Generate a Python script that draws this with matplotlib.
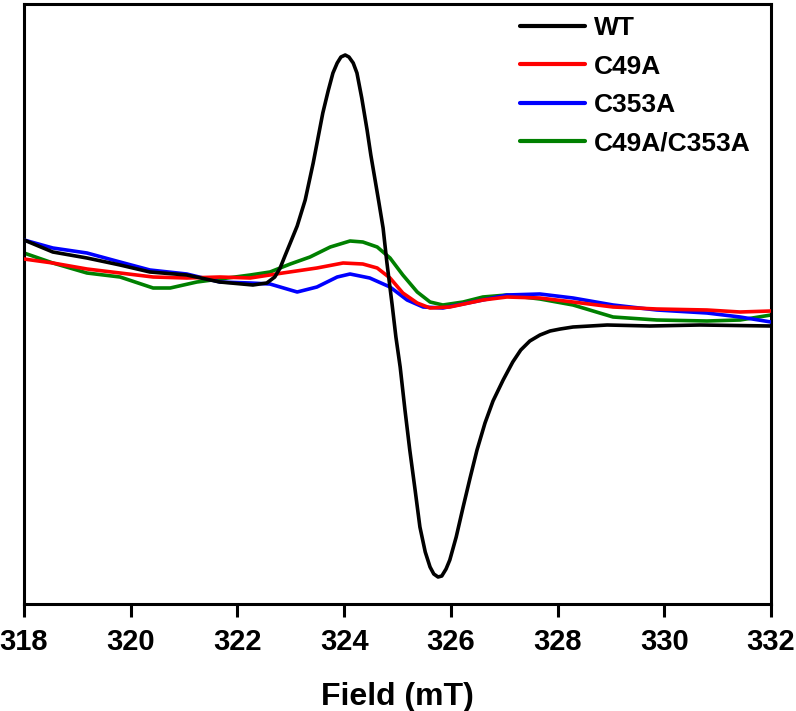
import matplotlib
matplotlib.use("Agg")
import matplotlib.pyplot as plt

plt.rcParams['font.family'] = ['Liberation Sans', 'DejaVu Sans']
plt.rcParams['font.weight'] = 'bold'

# Field (mT) and EPR intensity (a.u.)
wt_field = [318.00, 318.54, 319.18, 319.80, 320.36, 321.05, 321.67, 322.29, 322.55, 322.70,
            322.80, 322.89, 322.99, 323.12, 323.27, 323.42, 323.51, 323.60, 323.70, 323.79,
            323.87, 323.94, 324.02, 324.09, 324.17, 324.24, 324.33, 324.43, 324.50, 324.58,
            324.65, 324.73, 324.80, 324.90, 324.97, 325.05, 325.14, 325.23, 325.33, 325.42,
            325.52, 325.61, 325.68, 325.76, 325.83, 325.91, 325.98, 326.10, 326.23, 326.36,
            326.49, 326.64, 326.79, 326.98, 327.16, 327.31, 327.48, 327.67, 327.86, 328.05,
            328.29, 328.93, 329.73, 330.67, 332.00]
wt_int = [60, 48, 42, 35, 28, 25, 18, 15, 17, 23,
          32, 44, 57, 74, 100, 137, 162, 187, 209, 227,
          237, 243, 245, 243, 237, 227, 202, 170, 145, 120,
          98, 72, 38, -5, -37, -67, -110, -150, -190, -227,
          -252, -267, -274, -277, -276, -269, -260, -237, -207, -178,
          -150, -123, -101, -80, -62, -50, -41, -35, -31, -29,
          -27, -25, -26, -25, -26]

c49a_field = [318.00, 318.54, 319.18, 319.80, 320.42, 321.05, 321.67, 322.24, 322.85, 323.49,
              323.98, 324.35, 324.62, 324.86, 325.10, 325.37, 325.61, 325.98, 326.60, 327.05,
              327.67, 328.29, 329.04, 329.86, 330.80, 331.42, 332.00]
c49a_int = [41, 37, 31, 27, 23, 22, 23, 22, 27, 32,
            37, 36, 32, 22, 7, -3, -8, -7, 0, 3,
            2, -2, -7, -9, -10, -12, -11]

c353a_field = [318.00, 318.54, 319.18, 319.80, 320.36, 321.05, 321.67, 322.24, 322.61, 323.12,
               323.49, 323.87, 324.11, 324.48, 324.86, 325.18, 325.48, 325.85, 326.60, 327.05,
               327.67, 328.29, 329.04, 329.86, 330.80, 331.42, 332.00]
c353a_int = [60, 52, 47, 38, 30, 26, 18, 17, 16, 8,
             13, 23, 26, 22, 13, 0, -7, -8, 0, 5,
             6, 2, -5, -10, -13, -17, -22]

dbl_field = [318.00, 318.54, 319.18, 319.80, 320.42, 320.74, 321.24, 321.67, 322.24, 322.61,
             322.99, 323.36, 323.74, 324.11, 324.35, 324.62, 324.86, 325.10, 325.37, 325.61,
             325.85, 326.23, 326.60, 327.05, 327.67, 328.29, 329.04, 329.86, 330.80, 331.42,
             332.00]
dbl_int = [47, 37, 27, 23, 12, 12, 18, 21, 25, 28,
           36, 43, 53, 59, 58, 53, 42, 25, 8, -2,
           -5, -2, 3, 5, 1, -5, -17, -20, -21, -20,
           -15]

series = [
    ("WT", wt_field, wt_int, "black"),
    ("C49A", c49a_field, c49a_int, "#ff0000"),
    ("C353A", c353a_field, c353a_int, "#0000ff"),
    ("C49A/C353A", dbl_field, dbl_int, "#008000"),
]
zorders = {"WT": 5, "C49A": 4, "C353A": 3, "C49A/C353A": 2}

xticks = [318, 320, 322, 324, 326, 328, 330, 332]

fig = plt.figure(figsize=(7.96, 7.11), dpi=100)
ax = fig.add_axes([24/796, 1-604/711, (771-24)/796, (604-4)/711])

for name, f, y, c in series:
    ax.plot(f, y, color=c, lw=2.6, label=name, zorder=zorders[name],
            solid_joinstyle='round', solid_capstyle='round')

ax.set_xlim(318, 332)
ax.set_ylim(-304, 296)
ax.set_xticks(xticks)
ax.set_xticklabels([str(t) for t in xticks], fontsize=21, fontweight='bold')
ax.set_yticks([])
ax.tick_params(axis='x', direction='out', length=9, width=2.2, pad=8)
for s in ax.spines.values():
    s.set_linewidth(2.2)
ax.set_xlabel("Field (mT)", fontsize=23, fontweight='bold', labelpad=19)

leg = ax.legend(loc='upper left', bbox_to_anchor=(520/796, 1-16/711),
                bbox_transform=fig.transFigure, frameon=False,
                fontsize=19, handlelength=2.46, handletextpad=0.34,
                labelspacing=0.55, borderpad=0, borderaxespad=0)
for t in leg.get_texts():
    t.set_fontweight('bold')
for l in leg.get_lines():
    l.set_linewidth(3)

fig.savefig("out.png", dpi=100)
